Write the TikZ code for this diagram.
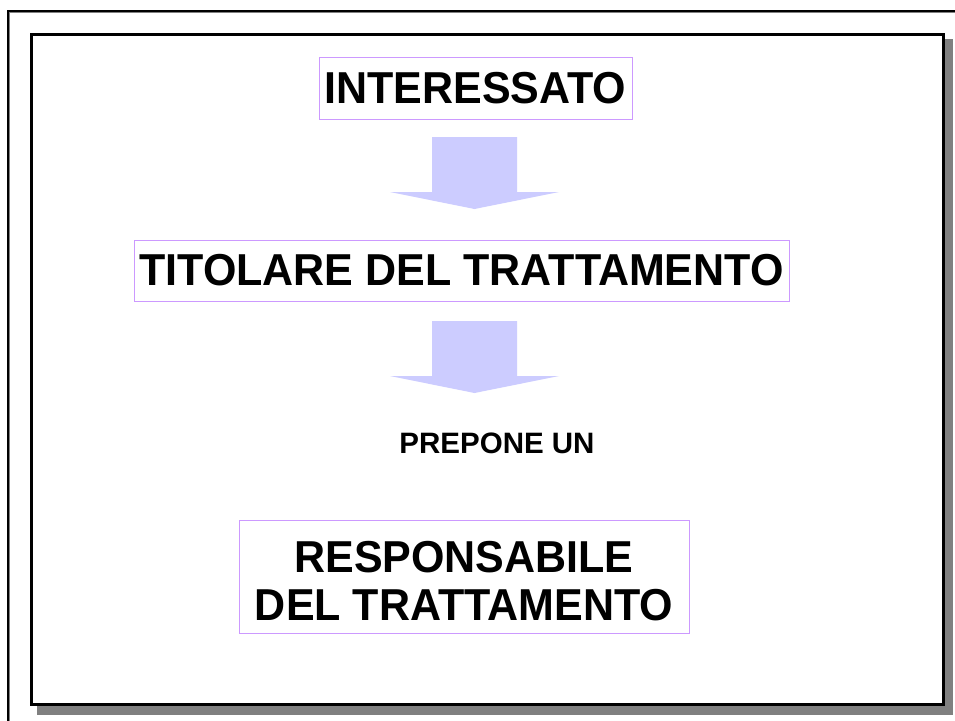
\documentclass[tikz,border=0pt]{standalone}
\usepackage{fontspec}
\setmainfont{Liberation Sans}
\definecolor{boxline}{RGB}{204,153,255}
\definecolor{arrowfill}{RGB}{204,204,255}
\definecolor{shadowgray}{RGB}{128,128,128}
\newcommand{\tallbig}[1]{\scalebox{1}[1.04]{#1}}
\begin{document}
\begin{tikzpicture}[x=1pt,y=-1pt,
  titlebox/.style={draw=boxline,line width=1pt,fill=white,inner sep=0pt,
    font=\fontsize{43}{48}\selectfont\bfseries},
  plaintext/.style={inner sep=0pt,font=\fontsize{43}{48}\selectfont\bfseries,align=center},
  smalltext/.style={inner sep=0pt,font=\fontsize{29.5}{34}\selectfont\bfseries},
  blockarrow/.style={fill=arrowfill,draw=none}]
\useasboundingbox (0,0) rectangle (955,720);
\clip (0,0) rectangle (955,720);
% outer page border (clipped at right and bottom)
\draw[shadowgray,line width=1pt] (9.5,12.5) rectangle (970,735);
\draw[black,line width=2pt] (8,10.5) rectangle (968,733);
% inner frame with shadow
\fill[shadowgray] (37,39) rectangle (953,715);
\draw[black,line width=3pt,fill=white] (31,34) rectangle (943,704.5);
% boxes
\node[titlebox,minimum width=313pt,minimum height=62pt] (interessato) at (475.5,88) {\tallbig{INTERESSATO}};
\node[titlebox,minimum width=655pt,minimum height=61pt] (titolare) at (461.5,270.5) {\tallbig{TITOLARE DEL TRATTAMENTO}};
\node[smalltext] (prepone) at (497,443) {PREPONE UN};
\node[titlebox,minimum width=450pt,minimum height=113pt] (responsabile) at (464,576.5) {};
\node[plaintext] (resptext) at (464,581) {\tallbig{RESPONSABILE}\\\tallbig{DEL TRATTAMENTO}};
% block arrows
\coordinate (a1) at (474.5,137);
\coordinate (a2) at (474.5,321);
\foreach \c in {a1,a2}{
  \fill[blockarrow] ([xshift=-42.5pt]\c) -- ([xshift=42.5pt]\c) -- ([xshift=42.5pt,yshift=-55pt]\c)
    -- ([xshift=84.5pt,yshift=-55pt]\c) -- ([yshift=-72pt]\c) -- ([xshift=-84.5pt,yshift=-55pt]\c)
    -- ([xshift=-42.5pt,yshift=-55pt]\c) -- cycle;
}
\end{tikzpicture}
\end{document}
